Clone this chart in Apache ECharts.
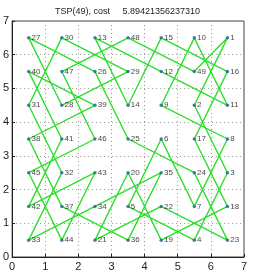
<!DOCTYPE html>
<html>
<head>
<meta charset="utf-8">
<script src="https://cdn.jsdelivr.net/npm/echarts@6/dist/echarts.min.js"></script>
<style>
html,body{margin:0;padding:0;background:#fff;}
#c{width:255px;height:273px;}
</style>
</head>
<body>
<div id="c"></div>
<script>
// City labels laid out on the grid, top row first
const rowY = [6.5, 5.5, 4.5, 3.5, 2.5, 1.5, 0.5];
const colX = [0.5, 1.5, 2.5, 3.5, 4.5, 5.5, 6.5];
const cityRows = [
  [27, 30, 13, 48, 15, 10, 1],
  [40, 47, 26, 29, 12, 49, 16],
  [31, 28, 39, 14, 9, 2, 11],
  [38, 41, 46, 25, 6, 17, 8],
  [45, 32, 43, 20, 35, 24, 3],
  [42, 37, 34, 5, 22, 7, 18],
  [33, 44, 21, 36, 19, 4, 23]
];
// Tour order (city labels)
const tour = [1,2,3,4,5,6,7,8,9,10,11,12,13,14,15,16,17,18,19,20,21,22,23,24,25,
  26,27,28,29,30,31,32,33,34,35,36,37,38,39,40,41,42,43,44,45,46,47,48,49,1];
const axisTicks = [0, 1, 2, 3, 4, 5, 6, 7];
const titleText = 'TSP(49), cost     5.89421356237310';

const pos = {};
const cityPts = [];
cityRows.forEach((row, ri) => row.forEach((lab, ci) => {
  pos[lab] = [colX[ci], rowY[ri]];
  cityPts.push({value: [colX[ci], rowY[ri]], name: String(lab)});
}));
const tourPts = tour.map(l => pos[l]);

const chart = echarts.init(document.getElementById('c'), null, {renderer: 'canvas'});
const axisCommon = {
  min: axisTicks[0], max: axisTicks[axisTicks.length - 1], interval: 1,
  axisLine: {show: true, lineStyle: {color: '#222', width: 1}},
  axisTick: {show: true, inside: true, length: 3, lineStyle: {color: '#222'}},
  axisLabel: {color: '#222', fontSize: 11, fontFamily: 'Liberation Sans, Arial, sans-serif'},
  splitLine: {show: true, lineStyle: {color: '#999', type: [1, 3], width: 1}}
};
chart.setOption({
  animation: false,
  backgroundColor: '#fff',
  title: {
    text: titleText, left: 'center', top: 2,
    textStyle: {fontSize: 9, fontWeight: 'normal', color: '#222', fontFamily: 'Liberation Sans, Arial, sans-serif'}
  },
  grid: {left: 11, right: 11, top: 21, bottom: 16, show: true, borderColor: '#444', borderWidth: 1},
  xAxis: Object.assign({type: 'value'}, axisCommon, {axisLabel: Object.assign({}, axisCommon.axisLabel, {margin: 4})}),
  yAxis: Object.assign({type: 'value'}, axisCommon, {axisLabel: Object.assign({}, axisCommon.axisLabel, {margin: 3})}),
  series: [
    {
      type: 'line', data: tourPts, showSymbol: false, symbol: 'none',
      lineStyle: {color: '#2ddf2d', width: 1.4}, z: 2
    },
    {
      type: 'scatter', data: cityPts, symbol: 'circle', symbolSize: 3.5,
      itemStyle: {color: '#2a5d9a'}, z: 3,
      label: {show: true, position: 'right', distance: 1, formatter: p => p.name,
        fontSize: 8, color: '#111', fontFamily: 'Liberation Sans, Arial, sans-serif'}
    }
  ]
});
</script>
</body>
</html>
